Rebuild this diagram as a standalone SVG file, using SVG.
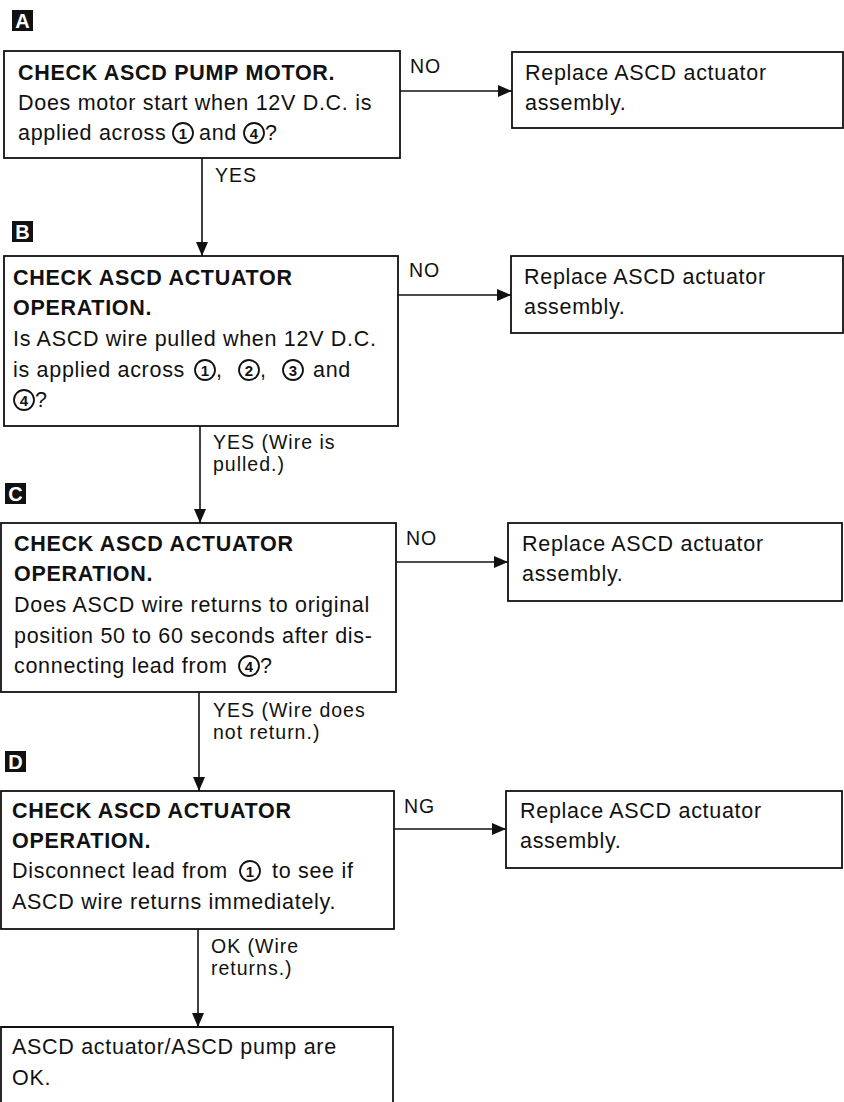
<svg xmlns="http://www.w3.org/2000/svg" width="844" height="1102" viewBox="0 0 844 1102">
<style>
.box{fill:#fff;stroke:#111;stroke-width:1.8}
.t{font-family:"Liberation Sans",Arial,Helvetica,sans-serif;font-size:21.5px;fill:#111;letter-spacing:0.7px}
.b{font-weight:bold}
.lbl{font-family:"Liberation Sans",Arial,Helvetica,sans-serif;font-size:19.5px;fill:#111;letter-spacing:1px}
.conn{stroke:#111;stroke-width:1.6;fill:none}
.circ{fill:none;stroke:#111;stroke-width:1.8}
.num{font-family:"Liberation Sans",Arial,Helvetica,sans-serif;font-size:15px;font-weight:bold;fill:#111;text-anchor:middle}
.tagr{fill:#111}
.tagt{font-family:"Liberation Sans",Arial,Helvetica,sans-serif;font-size:20px;font-weight:bold;fill:#fff;text-anchor:middle}
</style>
<defs>
<marker id="arr" markerWidth="14" markerHeight="12" refX="14" refY="6" orient="auto" markerUnits="userSpaceOnUse">
<path d="M0,0 L14,6 L0,12 z" fill="#111"/>
</marker>
</defs>

<g id="tags">
<rect class="tagr" x="12" y="10" width="21" height="21"/><text class="tagt" x="22.5" y="28">A</text>
<rect class="tagr" x="12" y="221" width="21" height="21"/><text class="tagt" x="22.5" y="239">B</text>
<rect class="tagr" x="5" y="483" width="21" height="21"/><text class="tagt" x="15.5" y="501">C</text>
<rect class="tagr" x="5" y="751" width="21" height="21"/><text class="tagt" x="15.5" y="769">D</text>
</g>

<g id="connectors">
<path class="conn" d="M202,158 V256" marker-end="url(#arr)"/>
<path class="conn" d="M400,91 H512" marker-end="url(#arr)"/>
<path class="conn" d="M200,426 V523" marker-end="url(#arr)"/>
<path class="conn" d="M398,295 H511" marker-end="url(#arr)"/>
<path class="conn" d="M199,692 V791" marker-end="url(#arr)"/>
<path class="conn" d="M396,562 H508" marker-end="url(#arr)"/>
<path class="conn" d="M198,929 V1027" marker-end="url(#arr)"/>
<path class="conn" d="M394,829 H506" marker-end="url(#arr)"/>
<text class="lbl" x="410" y="73">NO</text>
<text class="lbl" x="215" y="182">YES</text>
<text class="lbl" x="409" y="277">NO</text>
<text class="lbl" x="213" y="449">YES (Wire is</text>
<text class="lbl" x="213" y="471">pulled.)</text>
<text class="lbl" x="406" y="545">NO</text>
<text class="lbl" x="213" y="717">YES (Wire does</text>
<text class="lbl" x="213" y="739">not return.)</text>
<text class="lbl" x="404" y="813">NG</text>
<text class="lbl" x="211" y="953">OK (Wire</text>
<text class="lbl" x="211" y="975">returns.)</text>
</g>

<g id="nodeA">
<rect class="box" x="4" y="51" width="396" height="107"/>
<text class="t b" x="18" y="80">CHECK ASCD PUMP MOTOR.</text>
<text class="t" x="18" y="110">Does motor start when 12V D.C. is</text>
<text class="t" x="18" y="140">applied across</text>
<circle class="circ" cx="183" cy="133" r="10"/><text class="num" x="183" y="138.5">1</text>
<text class="t" x="199" y="140">and</text>
<circle class="circ" cx="254" cy="133" r="10"/><text class="num" x="254" y="138.5">4</text>
<text class="t" x="265" y="140">?</text>
</g>

<g id="nodeR1">
<rect class="box" x="512" y="52" width="331" height="76"/>
<text class="t" x="525" y="80">Replace ASCD actuator</text>
<text class="t" x="525" y="110">assembly.</text>
</g>

<g id="nodeB">
<rect class="box" x="4" y="256" width="394" height="170"/>
<text class="t b" x="13" y="285">CHECK ASCD ACTUATOR</text>
<text class="t b" x="13" y="315">OPERATION.</text>
<text class="t" x="13" y="346">Is ASCD wire pulled when 12V D.C.</text>
<text class="t" x="13" y="377">is applied across</text>
<circle class="circ" cx="205" cy="370" r="10"/><text class="num" x="205" y="375.5">1</text>
<text class="t" x="216" y="377">,</text>
<circle class="circ" cx="249" cy="370" r="10"/><text class="num" x="249" y="375.5">2</text>
<text class="t" x="260" y="377">,</text>
<circle class="circ" cx="293" cy="370" r="10"/><text class="num" x="293" y="375.5">3</text>
<text class="t" x="313" y="377">and</text>
<circle class="circ" cx="24" cy="400" r="10"/><text class="num" x="24" y="405.5">4</text>
<text class="t" x="35" y="407">?</text>
</g>

<g id="nodeR2">
<rect class="box" x="511" y="256" width="332" height="77"/>
<text class="t" x="524" y="284">Replace ASCD actuator</text>
<text class="t" x="524" y="314">assembly.</text>
</g>

<g id="nodeC">
<rect class="box" x="1" y="523" width="395" height="169"/>
<text class="t b" x="14" y="551">CHECK ASCD ACTUATOR</text>
<text class="t b" x="14" y="581">OPERATION.</text>
<text class="t" x="14" y="612">Does ASCD wire returns to original</text>
<text class="t" x="14" y="643">position 50 to 60 seconds after dis-</text>
<text class="t" x="14" y="673">connecting lead from</text>
<circle class="circ" cx="249" cy="666" r="10"/><text class="num" x="249" y="671.5">4</text>
<text class="t" x="260" y="673">?</text>
</g>

<g id="nodeR3">
<rect class="box" x="508" y="523" width="334" height="78"/>
<text class="t" x="522" y="551">Replace ASCD actuator</text>
<text class="t" x="522" y="581">assembly.</text>
</g>

<g id="nodeD">
<rect class="box" x="1" y="791" width="393" height="138"/>
<text class="t b" x="12" y="818">CHECK ASCD ACTUATOR</text>
<text class="t b" x="12" y="848">OPERATION.</text>
<text class="t" x="12" y="878">Disconnect lead from</text>
<circle class="circ" cx="250" cy="871" r="10"/><text class="num" x="250" y="876.5">1</text>
<text class="t" x="272" y="878">to see if</text>
<text class="t" x="12" y="909">ASCD wire returns immediately.</text>
</g>

<g id="nodeR4">
<rect class="box" x="506" y="791" width="336" height="77"/>
<text class="t" x="520" y="818">Replace ASCD actuator</text>
<text class="t" x="520" y="848">assembly.</text>
</g>

<g id="nodeF">
<path class="box" d="M1,1103 V1027 H393 V1103"/>
<text class="t" x="12" y="1054">ASCD actuator/ASCD pump are</text>
<text class="t" x="12" y="1085">OK.</text>
</g>
</svg>
